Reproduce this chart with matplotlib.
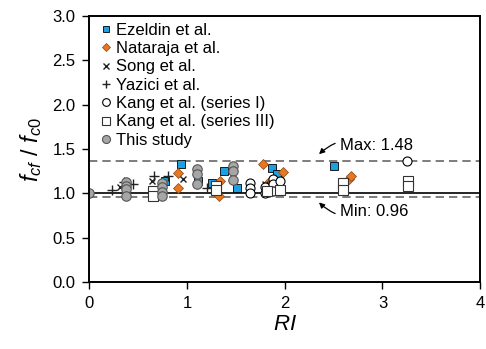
import matplotlib.pyplot as plt

plt.rcParams['font.family'] = ['Liberation Sans', 'DejaVu Sans']
plt.rcParams['mathtext.fontset'] = 'custom'
plt.rcParams['mathtext.rm'] = 'Liberation Sans'
plt.rcParams['mathtext.it'] = 'Liberation Sans:italic'

# data
ez_ri = [0.77, 0.94, 1.11, 1.25, 1.38, 1.51, 1.87, 1.92, 2.50]
ez_y = [1.14, 1.33, 1.14, 1.12, 1.25, 1.06, 1.29, 1.22, 1.31]

nat_ri = [0.91, 0.91, 1.33, 1.34, 1.78, 1.83, 1.98, 2.66, 2.68]
nat_y = [1.23, 1.06, 0.97, 1.14, 1.33, 1.12, 1.24, 1.16, 1.20]

song_ri = [0.31, 0.64, 0.96, 1.80]
song_y = [1.07, 1.14, 1.16, 1.10]

yaz_ri = [0.23, 0.35, 0.45, 0.66, 0.80, 1.20]
yaz_y = [1.04, 1.13, 1.10, 1.20, 1.20, 1.06]

k1_ri = [1.64, 1.64, 1.64, 1.80, 1.80, 1.88, 1.88, 1.88, 1.95, 3.25]
k1_y = [1.12, 1.06, 1.00, 1.07, 1.00, 1.16, 1.10, 1.03, 1.14, 1.36]

k3_ri = [0.65, 0.65, 1.30, 1.30, 1.82, 1.95, 2.60, 2.60, 3.26, 3.26]
k3_y = [1.03, 0.97, 1.08, 1.04, 1.03, 1.04, 1.12, 1.04, 1.14, 1.08]

ts_ri = [0.0, 0.37, 0.37, 0.37, 0.37, 0.74, 0.74, 0.74, 0.74, 1.10, 1.10, 1.10, 1.47, 1.47, 1.47]
ts_y = [1.00, 1.13, 1.08, 1.05, 0.97, 1.12, 1.07, 1.02, 0.97, 1.28, 1.22, 1.10, 1.31, 1.25, 1.15]

max_line = 1.365
min_line = 0.955

fig = plt.figure(figsize=(4.86, 3.49), dpi=100)
ax = fig.add_axes([0.184, 0.192, 0.804, 0.762])

ax.axhline(1.0, color='black', lw=1.2, zorder=1)
ax.axhline(max_line, color='#666666', lw=1.2, ls=(0, (5, 3)), zorder=1)
ax.axhline(min_line, color='#666666', lw=1.2, ls=(0, (5, 3)), zorder=1)

ax.plot(ez_ri, ez_y, 's', ms=5.2, mfc='#1BA1E2', mec='black', mew=0.6, ls='none', label='Ezeldin et al.')
ax.plot(nat_ri, nat_y, 'D', ms=5, mfc='#E87722', mec='#8B4513', mew=0.5, ls='none', label='Nataraja et al.')
ax.plot(song_ri, song_y, 'x', ms=5, mec='#222222', mew=1.0, ls='none', label='Song et al.')
ax.plot(yaz_ri, yaz_y, '+', ms=7, mec='#222222', mew=1.0, ls='none', label='Yazici et al.')
ax.plot(k1_ri, k1_y, 'o', ms=6.5, mfc='white', mec='black', mew=0.8, ls='none', label='Kang et al. (series I)')
ax.plot(k3_ri, k3_y, 's', ms=6.5, mfc='white', mec='#333333', mew=0.8, ls='none', label='Kang et al. (series III)')
ax.plot(ts_ri, ts_y, 'o', ms=6.8, mfc='#A6A6A6', mec='#555555', mew=0.8, ls='none', label='This study')

ax.set_xlim(0, 4)
ax.set_ylim(0, 3)
ax.set_xticks([0, 1, 2, 3, 4])
ax.set_yticks([0, 0.5, 1.0, 1.5, 2.0, 2.5, 3.0])
ax.set_yticklabels(['0.0', '0.5', '1.0', '1.5', '2.0', '2.5', '3.0'])
ax.tick_params(direction='out', length=5, width=1, labelsize=12, pad=5)
for s in ax.spines.values():
    s.set_linewidth(1.4)

ax.set_xlabel('$\\mathit{RI}$', fontsize=16, labelpad=2)
ax.set_ylabel('$\\mathit{f}_{\\mathit{cf}}\\ /\\ \\mathit{f}_{\\mathit{c0}}$', fontsize=17, labelpad=6)

ax.annotate('Max: 1.48', xy=(2.33, 1.42), xytext=(2.57, 1.54), fontsize=12,
            va='center', ha='left',
            arrowprops=dict(arrowstyle='-|>', color='black', lw=0.9,
                            connectionstyle='arc3,rad=0.35', mutation_scale=8))
ax.annotate('Min: 0.96', xy=(2.33, 0.92), xytext=(2.57, 0.79), fontsize=12,
            va='center', ha='left',
            arrowprops=dict(arrowstyle='-|>', color='black', lw=0.9,
                            connectionstyle='arc3,rad=-0.35', mutation_scale=8))

ax.legend(loc='upper left', frameon=False, fontsize=12, handletextpad=0.0,
          labelspacing=0.2, borderaxespad=0.1, handlelength=1.2,
          borderpad=0.3, markerscale=0.85)

fig.savefig('out.png', dpi=100)
